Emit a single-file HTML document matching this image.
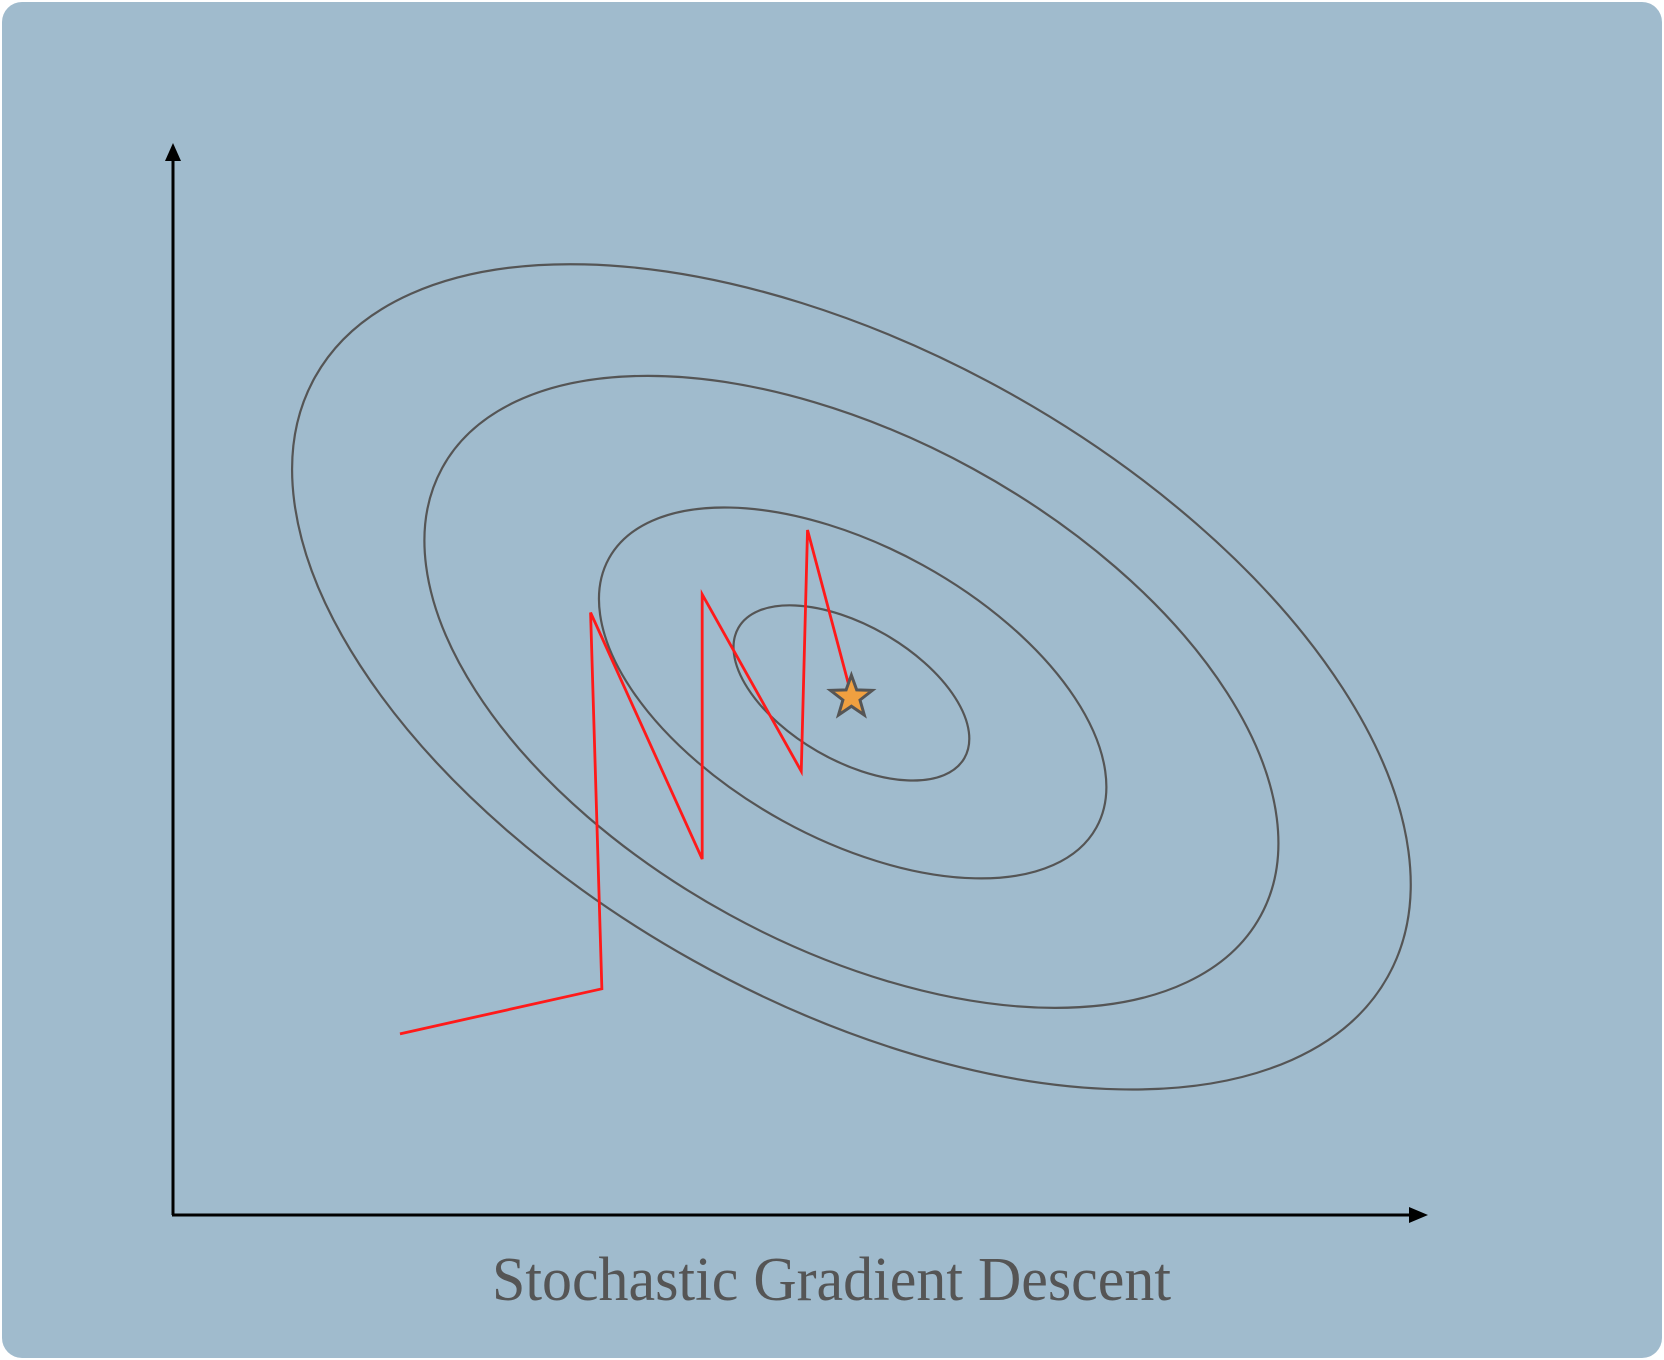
<!DOCTYPE html>
<html><head><meta charset="utf-8"><style>
html,body{margin:0;padding:0;background:#fff;}
svg{display:block;}
</style></head><body>
<svg width="1664" height="1360" viewBox="0 0 1664 1360">
<rect x="2" y="2" width="1660" height="1356" rx="20" fill="#a0bbcd"/>
<g id="contours"></g>
<g id="path"></g>
<line x1="173" y1="1215" x2="173" y2="158" stroke="#000" stroke-width="3"/>
<polygon points="173,143 165,161 181,161" fill="#000"/>
<line x1="172" y1="1215" x2="1410" y2="1215" stroke="#000" stroke-width="3"/>
<polygon points="1428,1215 1409,1207 1409,1223" fill="#000"/>
<text x="492" y="1300" textLength="679" lengthAdjust="spacingAndGlyphs" font-family="'Liberation Serif',serif" font-size="62" fill="#555">Stochastic Gradient Descent</text>
<script>
// data coordinates: x 0..100, y 0..100
const pathX = [18.1, 34.2, 33.3, 42.2, 42.2, 50.1, 50.6, 54.1];
const pathY = [16.9, 21.1, 56.2, 33.2, 57.9, 41.4, 63.9, 48.5];
const contourCx = [54.1, 54.1, 54.2, 54.1];
const contourCy = [50.2, 48.8, 48.7, 48.7];
const contourA = [49.0, 37.2, 22.2, 10.4];
const contourB = [30.3, 23.7, 13.6, 6.3];
const contourAngle = [29.2, 28.7, 28.9, 30];
const minX = 54.1, minY = 48.3;

const sx = v => 173 + v * 12.54;
const sy = v => 1215 - v * 10.72;
const NS = 'http://www.w3.org/2000/svg';
const cg = document.getElementById('contours');
for (let i = 0; i < contourA.length; i++) {
  const e = document.createElementNS(NS, 'ellipse');
  const cx = sx(contourCx[i]), cy = sy(contourCy[i]);
  e.setAttribute('cx', cx); e.setAttribute('cy', cy);
  e.setAttribute('rx', contourA[i] * 12.54); e.setAttribute('ry', contourB[i] * 10.72);
  e.setAttribute('transform', `rotate(${contourAngle[i]} ${cx} ${cy})`);
  e.setAttribute('fill', 'none'); e.setAttribute('stroke', '#555'); e.setAttribute('stroke-width', '2.2');
  
  
  cg.appendChild(e);
}
const pg = document.getElementById('path');
const pl = document.createElementNS(NS, 'polyline');
pl.setAttribute('points', pathX.map((x, i) => sx(x) + ',' + sy(pathY[i])).join(' '));
pl.setAttribute('fill', 'none'); pl.setAttribute('stroke', '#ff1a1a'); pl.setAttribute('stroke-width', '2.8');


pg.appendChild(pl);
const star = document.createElementNS(NS, 'polygon');
const scx = sx(minX), scy = sy(minY);
let pts = [];
for (let k = 0; k < 10; k++) {
  const r = k % 2 ? 9 : 22, ang = -Math.PI / 2 + k * Math.PI / 5;
  pts.push((scx + r * Math.cos(ang)).toFixed(1) + ',' + (scy + r * Math.sin(ang)).toFixed(1));
}
star.setAttribute('points', pts.join(' '));
star.setAttribute('fill', '#f0a040'); star.setAttribute('stroke', '#555'); star.setAttribute('stroke-width', '3');


pg.appendChild(star);
</script>
</svg>
</body></html>
